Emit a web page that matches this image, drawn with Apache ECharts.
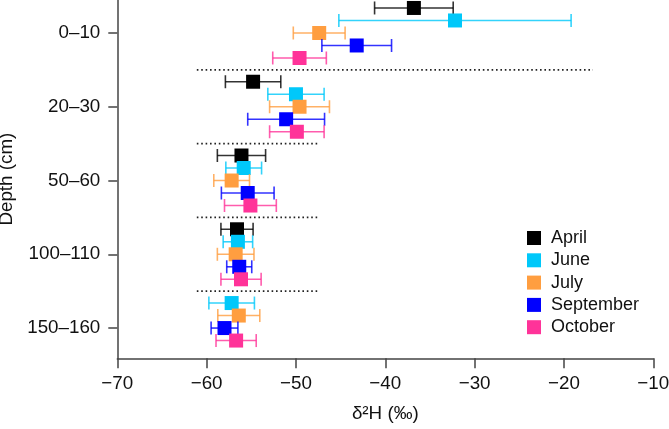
<!DOCTYPE html>
<html>
<head>
<meta charset="utf-8">
<script src="https://cdn.jsdelivr.net/npm/echarts@6/dist/echarts.min.js"></script>
<style>html,body{margin:0;padding:0;background:#fff}#c{width:669px;height:429px}</style>
</head>
<body>
<div id="c"></div>
<script>
// ---- data ----
const depths = ['0–10', '20–30', '50–60', '100–110', '150–160'];
const months = ['April', 'June', 'July', 'September', 'October'];
const aprilMean = [-36.8, -54.8, -56.1, -56.6, null];
const aprilErr  = [4.4, 3.1, 2.7, 1.8, null];
const juneMean  = [-32.2, -50.0, -55.85, -56.5, -57.2];
const juneErr   = [13.0, 3.15, 2.0, 1.65, 2.55];
const julyMean  = [-47.4, -49.6, -57.2, -56.75, -56.4];
const julyErr   = [2.9, 3.35, 2.0, 2.05, 2.35];
const septMean  = [-43.2, -51.1, -55.4, -56.35, -58.0];
const septErr   = [3.9, 4.3, 2.95, 1.4, 1.5];
const octMean   = [-49.6, -49.9, -55.1, -56.15, -56.7];
const octErr    = [3.0, 3.05, 2.9, 2.25, 2.25];
const xTicks = [-70, -60, -50, -40, -30, -20, -10];
// dotted separators between depth groups (x extent in ‰)
const sepStart = [-61.1, -61.1, -61.1, -61.1];
const sepEnd   = [-16.75, -47.6, -47.6, -47.6];

// ---- styling ----
const colors = ['#000000', '#00c8fa', '#ff9e40', '#0000ff', '#ff3399'];
const means = [aprilMean, juneMean, julyMean, septMean, octMean];
const errs = [aprilErr, juneErr, julyErr, septErr, octErr];
const SLOT = 0.1695;  // vertical spacing between months inside a depth group

// rank of each present month inside its depth group
function slotOf(mi, di) {
  let r = 0;
  for (let k = 0; k < mi; k++) if (means[k][di] != null) r++;
  return r;
}

const series = months.map((m, mi) => {
  const data = [];
  depths.forEach((d, di) => {
    if (means[mi][di] == null) return;
    data.push([means[mi][di], di + (slotOf(mi, di) - 2) * SLOT, errs[mi][di]]);
  });
  const col = colors[mi];
  return {
    name: m,
    type: 'custom',
    itemStyle: { color: col },
    data: data,
    encode: { x: 0, y: 1 },
    renderItem: function (params, api) {
      const x = api.value(0), y = api.value(1), e = api.value(2);
      const c = api.coord([x, y]);
      const l = api.coord([x - e, y]);
      const r = api.coord([x + e, y]);
      const cap = 6.5, half = 7;
      const ls = { stroke: col, lineWidth: 1.6, opacity: 0.8 };
      return {
        type: 'group',
        children: [
          { type: 'line', shape: { x1: l[0], y1: c[1], x2: r[0], y2: c[1] }, style: ls },
          { type: 'line', shape: { x1: l[0], y1: c[1] - cap, x2: l[0], y2: c[1] + cap }, style: ls },
          { type: 'line', shape: { x1: r[0], y1: c[1] - cap, x2: r[0], y2: c[1] + cap }, style: ls },
          { type: 'rect', shape: { x: c[0] - half, y: c[1] - half, width: 2 * half, height: 2 * half }, style: { fill: col } }
        ]
      };
    },
    z: 3
  };
});

sepStart.forEach((s, i) => {
  series.push({
    type: 'line',
    data: [[s, i + 0.5], [sepEnd[i], i + 0.5]],
    symbol: 'none',
    silent: true,
    lineStyle: { color: '#222', width: 1.6, type: [1.6, 2.8] },
    z: 1
  });
});

const chart = echarts.init(document.getElementById('c'), null, { renderer: 'canvas' });
chart.setOption({
  animation: false,
  backgroundColor: '#ffffff',
  textStyle: { fontFamily: 'Liberation Sans, Arial, sans-serif' },
  grid: { left: 117.3, right: 15.7, top: 0, bottom: 70.7, containLabel: false, outerBoundsMode: 'none' },
  legend: {
    data: months,
    orient: 'vertical',
    left: 522,
    top: 224,
    itemWidth: 14,
    itemHeight: 14,
    itemGap: 4.3,
    icon: 'rect',
    textStyle: { fontSize: 18, color: '#111', padding: [0, 0, 0, 5] }
  },
  xAxis: {
    type: 'value',
    min: xTicks[0],
    max: xTicks[xTicks.length - 1],
    interval: 10,
    name: 'δ²H (‰)',
    nameLocation: 'middle',
    nameGap: 46,
    nameTextStyle: { fontSize: 18.8, color: '#111' },
    axisLine: { onZero: false, lineStyle: { color: '#444', width: 1.5 } },
    axisTick: { length: 10, lineStyle: { color: '#444', width: 1.5 } },
    axisLabel: { fontSize: 18.8, color: '#111', margin: 16, formatter: v => String(v).replace('-', '\u2212') },
    splitLine: { show: false }
  },
  yAxis: {
    type: 'value',
    inverse: true,
    min: -0.447,
    max: 4.41,
    name: 'Depth (cm)',
    nameLocation: 'middle',
    nameGap: 100,
    nameTextStyle: { fontSize: 18.8, color: '#111' },
    axisLine: { show: true, onZero: false, lineStyle: { color: '#444', width: 1.5 } },
    axisTick: { show: true, length: 9, customValues: [0, 1, 2, 3, 4], lineStyle: { color: '#444', width: 1.5 } },
    axisLabel: { fontSize: 18.8, color: '#111', margin: 17, customValues: [0, 1, 2, 3, 4], formatter: v => depths[Math.round(v)] },
    splitLine: { show: false }
  },
  series: series
});
</script>
</body>
</html>
